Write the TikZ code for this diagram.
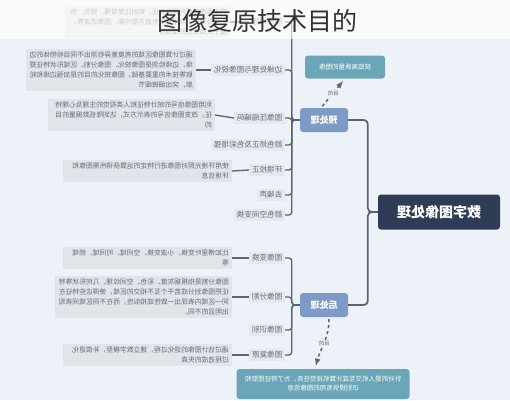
\documentclass[tikz,border=0pt]{standalone}
\usepackage{fontspec}
\setmainfont{Noto Sans CJK SC}
\XeTeXlinebreaklocale "zh"
\XeTeXlinebreakskip = 0pt plus 1pt
\usetikzlibrary{calc}
\usetikzlibrary{positioning}

\definecolor{bgblue}{HTML}{EDF2F8}
\definecolor{rootnavy}{HTML}{2E3D55}
\definecolor{stageblue}{HTML}{7D9BC6}
\definecolor{goalteal}{HTML}{6BA5B8}
\definecolor{descgray}{HTML}{E1E5EA}
\definecolor{labelgray}{HTML}{E5E9EF}
\definecolor{linegray}{HTML}{5B6371}
\definecolor{textgray}{HTML}{656B76}

% mirrored text, as the map is printed flipped
\newcommand{\mir}[1]{\reflectbox{#1}}
\newcommand{\mirpar}[2]{\reflectbox{\parbox{#1}{\raggedright #2}}}

\begin{document}
\begin{tikzpicture}[x=1pt,y=-1pt,
  rootnode/.style={fill=rootnavy, text=white, rounded corners=3pt, minimum width=122pt, minimum height=35pt, font=\fontsize{14}{16}\selectfont\bfseries},
  stagenode/.style={fill=stageblue, text=white, rounded corners=3pt, minimum width=48pt, minimum height=24pt, font=\fontsize{9}{11}\selectfont\bfseries},
  goalnode/.style={fill=goalteal, text=white, rounded corners=3pt, font=\fontsize{6.5}{9}\selectfont},
  leaf/.style={fill=labelgray, text=textgray, inner sep=2.5pt, anchor=east, font=\fontsize{7.6}{9}\selectfont},
  desc/.style={fill=descgray, text=textgray, inner sep=3pt, anchor=east, font=\fontsize{6.8}{9.8}\selectfont},
  branch/.style={draw=linegray, line width=1.7pt, rounded corners=4pt},
  twig/.style={draw=linegray, line width=1.3pt, rounded corners=3pt},
  goalarrow/.style={draw=linegray, line width=1.5pt, dashed, -latex, shorten <=2pt, shorten >=3pt},
  goaltag/.style={fill=bgblue, text=textgray, inner sep=1pt, font=\fontsize{5.5}{6}\selectfont}]
  \useasboundingbox (0,0) rectangle (510,400);
  \fill[bgblue] (0,0) rectangle (510,400);

  %Nodes
  \node[rootnode]  (root)     at (439,212) {\mir{数字图像处理}};
  \node[stagenode] (pre)      at (324,120) {\mir{预处理}};
  \node[stagenode] (post)     at (324,305) {\mir{后处理}};
  \node[goalnode, minimum width=80pt, minimum height=23pt] (pregoal) at (345,67) {\mir{获取高质量的图像}};
  \node[goalnode, minimum width=173pt, minimum height=30pt] (postgoal) at (323,384)
    {\reflectbox{\parbox{160pt}{\centering 针对的是人机交互或计算机视觉任务，为了特征提取和识别提供有用的图像信息}}};

  %pre children
  \node[leaf] (preA) at (285,22)  {\mir{图像增强}};
  \node[leaf] (preB) at (285,70)  {\mir{边缘处理与图像锐化}};
  \node[leaf] (preC) at (285,118) {\mir{图像压缩编码}};
  \node[leaf] (preD) at (285,145) {\mir{颜色矫正及色彩增强}};
  \node[leaf] (preE) at (285,170) {\mir{环境校正}};
  \node[leaf] (preF) at (285,195) {\mir{去噪声}};
  \node[leaf] (preG) at (285,215) {\mir{颜色空间变换}};

  \node[desc] (preAdesc) at (230,22)  {\mirpar{159pt}{突出图像中感兴趣的特征，如对比度增强、锐化、伪彩色处理等，常用方法有直方图均衡、图像滤波等，基于人类视觉的增强等}};
  \node[desc] (preBdesc) at (196,70)  {\mirpar{164pt}{通过计算图像区域的亮度差异检测出不同目标物体的边缘，边缘检测是图像锐化、图像分割、区域形状特征提取等技术的重要基础，图像锐化的目的是加强边缘和轮廓，突出细微细节}};
  \node[desc] (preCdesc) at (215,115) {\mirpar{161pt}{利用图像信号的统计特征和人类视觉的生理及心理特征，改变图像信号的表示方式，达到降低数据量的目的}};
  \node[desc] (preEdesc) at (232,171) {\mirpar{163pt}{使用环境光照对图像进行特定的运算获得所需图像和环境信息}};

  %post children
  \node[leaf] (postA) at (285,258) {\mir{图像变换}};
  \node[leaf] (postB) at (285,297) {\mir{图像分割}};
  \node[leaf] (postC) at (285,330) {\mir{图像识别}};
  \node[leaf] (postD) at (285,355) {\mir{图像复原}};

  \node[desc] (postAdesc) at (232,258) {\mirpar{163pt}{比如傅里叶变换、小波变换、空间域、时间域、频域等}};
  \node[desc] (postBdesc) at (232,297) {\mirpar{171pt}{图像分割是指根据灰度、彩色、空间纹理、几何形状等特征把图像划分成若干个互不相交的区域，使得这些特征在同一区域内表现出一致性或相似性，而在不同区域间表现出明显的不同。}};
  \node[desc] (postDdesc) at (232,355) {\mirpar{163pt}{通过估计图像的退化过程，建立数学模型，补偿退化过程造成的失真}};

  %Connectors
  \coordinate (rootin)   at ($(root.west)+(-10,0)$);
  \coordinate (prespine) at ($(pre.west)+(-8,0)$);
  \coordinate (postspine) at ($(post.west)+(-8,0)$);
  \draw[branch] (pre.east) -| (rootin) -- (root.west);
  \draw[branch] (post.east) -| (rootin) -- (root.west);
  \foreach \kid in {preA,preB,preC,preD,preE,preF,preG}
    \draw[twig] (pre.west) -- (prespine) |- (\kid.east);
  \foreach \kid in {postA,postB,postC,postD}
    \draw[twig] (post.west) -- (postspine) |- (\kid.east);
  \foreach \kid in {preA,preB,preC,preE,postA,postB,postD}
    \draw[twig] (\kid desc.east) -- (\kid.west);

  \draw[goalarrow] ($(pre.north)+(-3,0)$) -- node[goaltag] {\mir{目的}} (pregoal.south);
  \draw[goalarrow] ($(post.south)+(5,0)$) to[out=-90,in=75] node[goaltag] {\mir{目的}} ($(postgoal.north)+(-8,0)$);

  %title band
  \fill[white, opacity=0.65] (0,0) rectangle (510,39);
  \node[text=black!80, font=\fontsize{25}{28}\selectfont] (title) at (257,21) {图像复原技术目的};
\end{tikzpicture}
\end{document}
